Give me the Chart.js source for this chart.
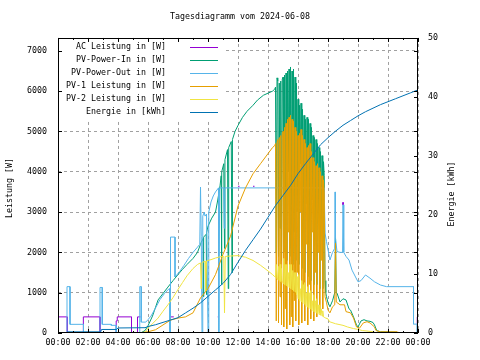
<!DOCTYPE html>
<html>
<head>
<meta charset="utf-8">
<script src="https://cdn.jsdelivr.net/npm/chart.js@4"></script>
<style>
html,body{margin:0;padding:0;background:#fff;}
canvas{display:block;}
</style>
</head>
<body>
<canvas id="c" width="480" height="360"></canvas>
<script>
// ---- data (time in hours, value) ----
const titleText = "Tagesdiagramm vom 2024-06-08";
const xTickHours = [0,2,4,6,8,10,12,14,16,18,20,22,24];
const leftTicks = [0,1000,2000,3000,4000,5000,6000,7000];
const rightTicks = [0,10,20,30,40,50];
const seriesNames = ["AC Leistung in [W]","PV-Power-In in [W]","PV-Power-Out in [W]","PV-1 Leistung in [W]","PV-2 Leistung in [W]","Energie in [kWh]"];

// AC power: where it coincides with PV-Power-Out it is hidden (null = gap)
const acPower = [[0,400],[0.62,400],[0.62,0],[1.69,0],[1.69,400],[2.8,400],[2.8,0],[3.88,0],[3.88,300],[3.95,300],[3.95,400],[4.9,400],[4.9,0],[5.3,0],[5.3,400],[5.5,400],[5.55,null],[7.45,400],[7.72,400],[7.75,null],[10.65,400],[10.72,400],[10.75,null],[12.0,3640],[12.1,3640],[12.15,null],[13.0,3640],[13.1,3640],[13.15,null],[18.99,3180],[19.0,3240],[19.01,3180],[19.02,null],[23.95,220],[23.95,400],[24,400]];

const pvPowerIn = [[5.5,0],[5.8,60],[6.0,180],[6.3,420],[6.67,820],[7.0,980],[7.33,1140],[7.67,1300],[8.0,1450],[8.3,1580],[8.6,1700],[9.0,1850],[9.3,2000],[9.5,2200],[9.55,2250],[9.69,2350],[9.7,900],[9.72,2380],[9.88,2450],[9.9,950],[9.92,2500],[10.0,2650],[10.25,2850],[10.5,3000],[10.65,3300],[10.8,3650],[10.88,3900],[10.9,1200],[10.93,4000],[11.05,4200],[11.1,2100],[11.13,4300],[11.3,4550],[11.35,1100],[11.38,4600],[11.55,4750],[11.6,1500],[11.63,4800],[11.8,5000],[12.0,5150],[12.3,5350],[12.6,5500],[13.0,5650],[13.3,5780],[13.7,5900],[14.0,5950],[14.3,6000],[14.45,6050],
[14.5,6100],[14.55,2000],[14.6,6330],[14.65,6250],[14.7,1900],[14.75,6200],[14.8,2600],[14.85,6250],[14.9,1800],[14.95,6300],[15.0,6350],[15.05,2000],[15.1,6400],[15.15,2300],[15.2,6450],[15.25,1800],[15.3,6500],[15.35,4000],[15.4,6550],[15.45,1900],[15.5,6600],[15.55,2100],[15.6,6500],[15.65,1700],[15.7,6550],[15.75,2500],[15.8,6350],[15.85,1800],[15.9,6200],[15.95,3000],[16.0,5800],[16.05,1700],[16.1,5650],[16.15,4200],[16.2,5700],[16.25,1600],[16.3,5550],[16.35,2200],[16.4,5400],[16.45,1500],[16.5,5300],[16.55,3200],[16.6,5350],[16.65,1400],[16.7,5300],[16.75,2200],[16.8,5200],[16.85,1300],[16.9,5100],[16.95,3300],[17.0,4900],[17.05,1200],[17.1,4850],[17.15,2300],[17.2,4800],[17.25,1200],[17.3,4700],[17.35,2700],[17.4,4600],[17.45,1100],[17.5,4500],[17.55,2400],[17.6,4400],[17.65,1100],[17.7,4250],[17.75,3900],
[17.8,1300],[17.85,1000],[17.9,900],[18.0,750],[18.13,650],[18.3,800],[18.45,1000],[18.5,2400],[18.55,1000],[18.6,990],[18.8,770],[19.0,850],[19.2,820],[19.4,600],[19.5,570],[19.7,400],[19.9,200],[20.0,150],[20.2,300],[20.4,330],[20.6,300],[20.8,290],[21.0,260],[21.1,200],[21.25,60],[21.5,30],[22.6,20],[22.7,0]];

const pvPowerOut = [[0,0],[0.6,0],[0.6,1150],[0.8,1150],[0.8,215],[1.7,215],[1.7,0],[2.8,0],[2.8,1130],[2.95,1130],[2.95,215],[3.55,215],[3.55,190],[3.88,190],[3.88,0],[5.45,0],[5.45,1150],[5.55,1150],[5.55,270],[5.85,270],[6.0,330],[6.2,420],[6.5,620],[6.8,830],[7.1,980],[7.35,1080],[7.45,1100],[7.45,0],[7.5,0],[7.5,2380],[7.8,2380],[7.8,1390],[8.1,1520],[8.4,1680],[8.7,1850],[9.0,2000],[9.3,2130],[9.45,2200],[9.5,3620],[9.55,2400],[9.6,0],[9.65,2900],[9.75,3000],[9.8,2900],[9.9,2950],[10.0,0],[10.05,3000],[10.2,3250],[10.35,3400],[10.5,3500],[10.7,3600],[10.72,0],[10.78,3600],[11.05,3600],[11.08,2600],[11.12,3600],[17.75,3600],[17.8,2480],[17.9,2270],[18.13,1810],[18.3,2000],[18.45,2100],[18.47,3500],[18.5,2350],[18.6,2020],[18.8,2000],[18.97,2000],[19.0,3180],[19.05,2000],[19.2,1900],[19.4,1810],[19.6,1560],[20.0,1270],[20.2,1300],[20.5,1440],[20.8,1360],[21.1,1270],[21.5,1190],[21.9,1150],[23.7,1150],[23.7,220],[23.95,220],[23.95,0],[24,0]];

const pv1Power = [[4.8,0],[5.5,10],[6.0,30],[6.5,80],[7.0,200],[7.5,320],[8.0,370],[8.5,400],[9.0,500],[9.5,870],[10.0,1100],[10.5,1450],[11.0,1950],[11.5,2400],[12.0,3150],[12.5,3600],[13.0,3950],[13.5,4200],[14.0,4450],[14.3,4600],[14.45,4650],
[14.5,4700],[14.55,300],[14.6,4750],[14.65,4800],[14.7,250],[14.75,4850],[14.8,900],[14.85,4900],[14.9,200],[14.95,4950],[15.0,5000],[15.05,150],[15.1,5100],[15.15,600],[15.2,5200],[15.25,100],[15.3,5300],[15.35,2500],[15.4,5350],[15.45,200],[15.5,5400],[15.55,400],[15.6,5300],[15.65,150],[15.7,5250],[15.75,800],[15.8,5100],[15.85,300],[15.9,5000],[15.95,1500],[16.0,4900],[16.05,200],[16.1,4950],[16.15,3000],[16.2,5050],[16.25,250],[16.3,4900],[16.35,1000],[16.4,4800],[16.45,300],[16.5,4700],[16.55,2200],[16.6,4600],[16.65,200],[16.7,4650],[16.75,1200],[16.8,4700],[16.85,350],[16.9,4500],[16.95,2500],[17.0,4350],[17.05,300],[17.1,4250],[17.15,1500],[17.2,4150],[17.25,400],[17.3,4200],[17.35,2000],[17.4,4100],[17.45,500],[17.5,4000],[17.55,1800],[17.6,3900],[17.65,600],[17.7,3800],[17.75,3500],
[17.8,900],[17.9,750],[18.0,570],[18.13,500],[18.3,650],[18.45,700],[18.5,2230],[18.55,770],[18.8,700],[19.1,700],[19.2,530],[19.5,500],[19.7,370],[19.9,150],[20.1,120],[20.35,250],[20.6,280],[20.8,250],[21.1,150],[21.2,60],[21.5,30],[22.6,30],[22.65,0]];

const pv2Power = [[5.7,0],[5.9,60],[6.0,120],[6.3,230],[6.67,370],[7.0,540],[7.33,700],[7.67,880],[8.0,1080],[8.3,1250],[8.6,1420],[9.0,1600],[9.3,1700],[9.5,1740],[9.55,1100],[9.6,1750],[9.8,1780],[9.85,1050],[9.9,1790],[10.2,1820],[10.5,1860],[10.8,1890],[11.05,1900],[11.1,500],[11.15,1900],[11.5,1910],[12.0,1920],[12.5,1880],[13.0,1800],[13.5,1680],[14.0,1540],[14.3,1450],[14.45,1400],
[14.5,1380],[14.55,1700],[14.6,1350],[14.65,1330],[14.7,1650],[14.75,1300],[14.8,1700],[14.85,1280],[14.9,1600],[14.95,1250],[15.0,1230],[15.05,1850],[15.1,1200],[15.15,1700],[15.2,1180],[15.25,1700],[15.3,1150],[15.35,1500],[15.4,1130],[15.45,1700],[15.5,1100],[15.55,1700],[15.6,1080],[15.65,1550],[15.7,1050],[15.75,1500],[15.8,1020],[15.85,1500],[15.9,950],[15.95,1400],[16.0,850],[16.05,1450],[16.1,800],[16.15,1100],[16.2,780],[16.25,1300],[16.3,750],[16.35,1200],[16.4,720],[16.45,1250],[16.5,680],[16.55,1000],[16.6,650],[16.65,1150],[16.7,620],[16.75,1000],[16.8,600],[16.85,1050],[16.9,580],[16.95,800],[17.0,540],[17.05,950],[17.1,520],[17.15,800],[17.2,500],[17.25,850],[17.3,480],[17.35,700],[17.4,460],[17.45,700],[17.5,440],[17.55,600],[17.6,420],[17.65,550],[17.7,400],[17.75,390],
[17.85,370],[18.0,350],[18.1,280],[18.5,230],[19.0,190],[19.3,150],[19.7,110],[20.0,90],[20.3,60],[20.6,50],[21.0,30],[21.3,0]];

const energyKWh = [[0,0],[0.55,0],[0.62,0.2],[2.85,0.2],[2.9,0.6],[3.9,0.6],[4.0,0.85],[5.8,0.9],[6.0,1.1],[6.5,1.4],[7.0,1.8],[7.5,2.2],[8.0,2.6],[8.5,3.4],[9.0,4.2],[9.5,5.1],[10.0,6.2],[10.5,7.3],[11.0,8.4],[11.5,9.9],[12.0,12.0],[12.5,14.0],[13.0,15.8],[13.5,17.6],[14.0,19.6],[14.5,21.6],[15.0,23.3],[15.5,25.0],[16.0,27.0],[16.5,28.7],[17.0,30.3],[17.5,31.9],[18.0,33.1],[18.5,34.2],[19.0,35.2],[19.5,36.0],[20.0,36.8],[20.5,37.5],[21.0,38.1],[21.5,38.7],[22.0,39.2],[22.5,39.7],[23.0,40.2],[23.5,40.7],[24.0,41.2]];

// ---- styling ----
const FONT = "'DejaVu Sans Mono', 'Liberation Mono', monospace";
const FS = 8.3;
const colors = ['#9400d3','#009e73','#56b4e9','#e69f00','#f0e442','#0072b2'];
const seriesData = [acPower, pvPowerIn, pvPowerOut, pv1Power, pv2Power, energyKWh];
const axisIds = ['y','y','y','y','y','y1'];

const toXY = arr => arr.map(p => ({x: p[0], y: p[1]}));
const datasets = seriesData.map((d, i) => ({
  label: seriesNames[i],
  data: toXY(d),
  borderColor: colors[i],
  backgroundColor: colors[i],
  borderWidth: 1,
  pointRadius: 0,
  tension: 0,
  fill: false,
  spanGaps: false,
  yAxisID: axisIds[i],
  order: 6 - i
}));

const pad2 = n => String(n % 24).padStart(2, '0') + ':00';

const gnuPlugin = {
  id: 'gnu',
  beforeDatasetsDraw(chart) {
    const ctx = chart.ctx, a = chart.chartArea;
    ctx.save();
    ctx.fillStyle = '#fff';
    ctx.fillRect(a.left + 1, a.top + 1, 167, 82);
    ctx.restore();
  },
  afterDatasetsDraw(chart) {
    const ctx = chart.ctx, a = chart.chartArea;
    const xs = chart.scales.x, ys = chart.scales.y, y2 = chart.scales.y1;
    ctx.save();
    ctx.strokeStyle = '#000';
    ctx.lineWidth = 1;
    ctx.strokeRect(Math.round(a.left) + 0.5, Math.round(a.top) + 0.5, Math.round(a.right - a.left) - 1, Math.round(a.bottom - a.top) - 1);
    ctx.beginPath();
    for (let h = 0; h <= 24; h++) {
      const px = Math.round(xs.getPixelForValue(h)) + 0.5;
      const L = (h % 2 === 0) ? 4 : 2;
      ctx.moveTo(px, a.bottom); ctx.lineTo(px, a.bottom - L);
      ctx.moveTo(px, a.top); ctx.lineTo(px, a.top + L);
    }
    leftTicks.forEach(v => {
      const py = Math.round(ys.getPixelForValue(v)) + 0.5;
      ctx.moveTo(a.left, py); ctx.lineTo(a.left + 4, py);
      ctx.moveTo(a.right, py); ctx.lineTo(a.right - 4, py);
    });
    rightTicks.forEach(v => {
      const py = Math.round(y2.getPixelForValue(v)) + 0.5;
      ctx.moveTo(a.right, py); ctx.lineTo(a.right - 4, py);
    });
    ctx.stroke();

    ctx.font = FS + 'px ' + FONT;
    ctx.fillStyle = '#000';
    ctx.textAlign = 'right';
    ctx.textBaseline = 'middle';
    seriesNames.forEach((name, i) => {
      const yy = a.top + 9 + i * 13;
      ctx.fillText(name, a.left + 108, yy);
      ctx.strokeStyle = colors[i];
      ctx.beginPath();
      ctx.moveTo(a.left + 132, Math.round(yy) + 0.5);
      ctx.lineTo(a.left + 160, Math.round(yy) + 0.5);
      ctx.stroke();
    });

    ctx.fillStyle = '#000';
    ctx.textAlign = 'center';
    ctx.save();
    ctx.translate(10, 188);
    ctx.rotate(-Math.PI / 2);
    ctx.fillText('Leistung [W]', 0, 0);
    ctx.restore();
    ctx.save();
    ctx.translate(452, 194);
    ctx.rotate(-Math.PI / 2);
    ctx.fillText('Energie [kWh]', 0, 0);
    ctx.restore();
    ctx.restore();
  }
};

const tickFont = {family: FONT, size: FS};
new Chart(document.getElementById('c'), {
  type: 'line',
  data: {datasets},
  options: {
    responsive: false,
    animation: false,
    devicePixelRatio: 1,
    layout: {padding: 0},
    plugins: {
      legend: {display: false},
      tooltip: {enabled: false},
      title: {display: true, text: titleText, color: '#000', font: {family: FONT, size: FS, weight: 'normal', lineHeight: 1.2}, padding: {top: 12, bottom: 16}}
    },
    scales: {
      x: {
        type: 'linear', min: 0, max: 24,
        afterBuildTicks: s => { s.ticks = xTickHours.map(v => ({value: v})); },
        ticks: {callback: v => pad2(v), color: '#000', font: tickFont, padding: 5, maxRotation: 0, autoSkip: false},
        grid: {color: '#a0a0a0', drawTicks: false, lineWidth: 1},
        border: {display: false, dash: [3, 3]},
        afterFit: s => { s.height = 27; }
      },
      y: {
        position: 'left', min: 0, max: 7320,
        afterBuildTicks: s => { s.ticks = leftTicks.map(v => ({value: v})); },
        ticks: {color: '#000', font: tickFont, padding: 11, callback: v => String(v)},
        grid: {color: '#a0a0a0', drawTicks: false, lineWidth: 1},
        border: {display: false, dash: [3, 3]},
        afterFit: s => { s.width = 58; }
      },
      y1: {
        position: 'right', min: 0, max: 50,
        afterBuildTicks: s => { s.ticks = rightTicks.map(v => ({value: v})); },
        ticks: {color: '#000', font: tickFont, padding: 10, callback: v => String(v)},
        grid: {drawOnChartArea: false, drawTicks: false},
        border: {display: false},
        afterFit: s => { s.width = 62; }
      }
    }
  },
  plugins: [gnuPlugin]
});
</script>
</body>
</html>
